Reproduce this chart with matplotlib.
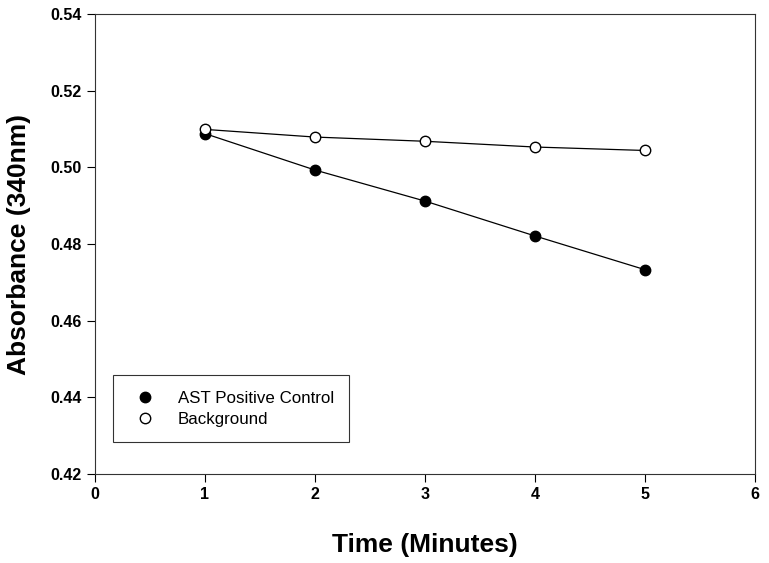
import matplotlib
matplotlib.use('Agg')
import matplotlib.pyplot as plt
from matplotlib.lines import Line2D

plt.rcParams['font.family'] = ['Liberation Sans', 'DejaVu Sans']

time_min = [1, 2, 3, 4, 5]
ast_positive = [0.5088, 0.4993, 0.4912, 0.4821, 0.4733]
background = [0.5099, 0.5079, 0.5068, 0.5053, 0.5044]

fig = plt.figure(figsize=(7.69, 5.63), dpi=100)
ax = fig.add_axes([0.1235, 0.1581, 0.8583, 0.8170])

ax.plot(time_min, ast_positive, color='black', lw=0.9, marker='o', ms=7.5,
        mfc='black', mec='black', zorder=3)
ax.plot(time_min, background, color='black', lw=0.9, marker='o', ms=7.5,
        mfc='white', mec='black', mew=1.0, zorder=4)

ax.set_xlim(0, 6)
ax.set_ylim(0.42, 0.54)
ax.set_xticks(range(0, 7))
ax.set_yticks([0.42, 0.44, 0.46, 0.48, 0.50, 0.52, 0.54])
ax.set_yticklabels(['0.42', '0.44', '0.46', '0.48', '0.50', '0.52', '0.54'])
ax.tick_params(direction='out', length=6, width=0.8, labelsize=11.5)
for lab in ax.get_xticklabels() + ax.get_yticklabels():
    lab.set_fontweight('bold')
for sp in ax.spines.values():
    sp.set_linewidth(0.8)
    sp.set_color('#333333')

ax.set_xlabel('Time (Minutes)', fontsize=19, fontweight='bold', labelpad=22)
ax.set_ylabel('Absorbance (340nm)', fontsize=19, fontweight='bold', labelpad=14)

handles = [
    Line2D([], [], ls='none', marker='o', ms=7.5, mfc='black', mec='black'),
    Line2D([], [], ls='none', marker='o', ms=7.5, mfc='white', mec='black'),
]
leg = ax.legend(handles, ['AST Positive Control', 'Background'],
                loc='lower left', bbox_to_anchor=(0.027, 0.07), fontsize=12.2,
                frameon=True, fancybox=False, edgecolor='black',
                handletextpad=0.95, borderpad=0.9, labelspacing=0.35,
                borderaxespad=0)
leg.get_frame().set_linewidth(0.8)

fig.savefig('out.png', dpi=100)
